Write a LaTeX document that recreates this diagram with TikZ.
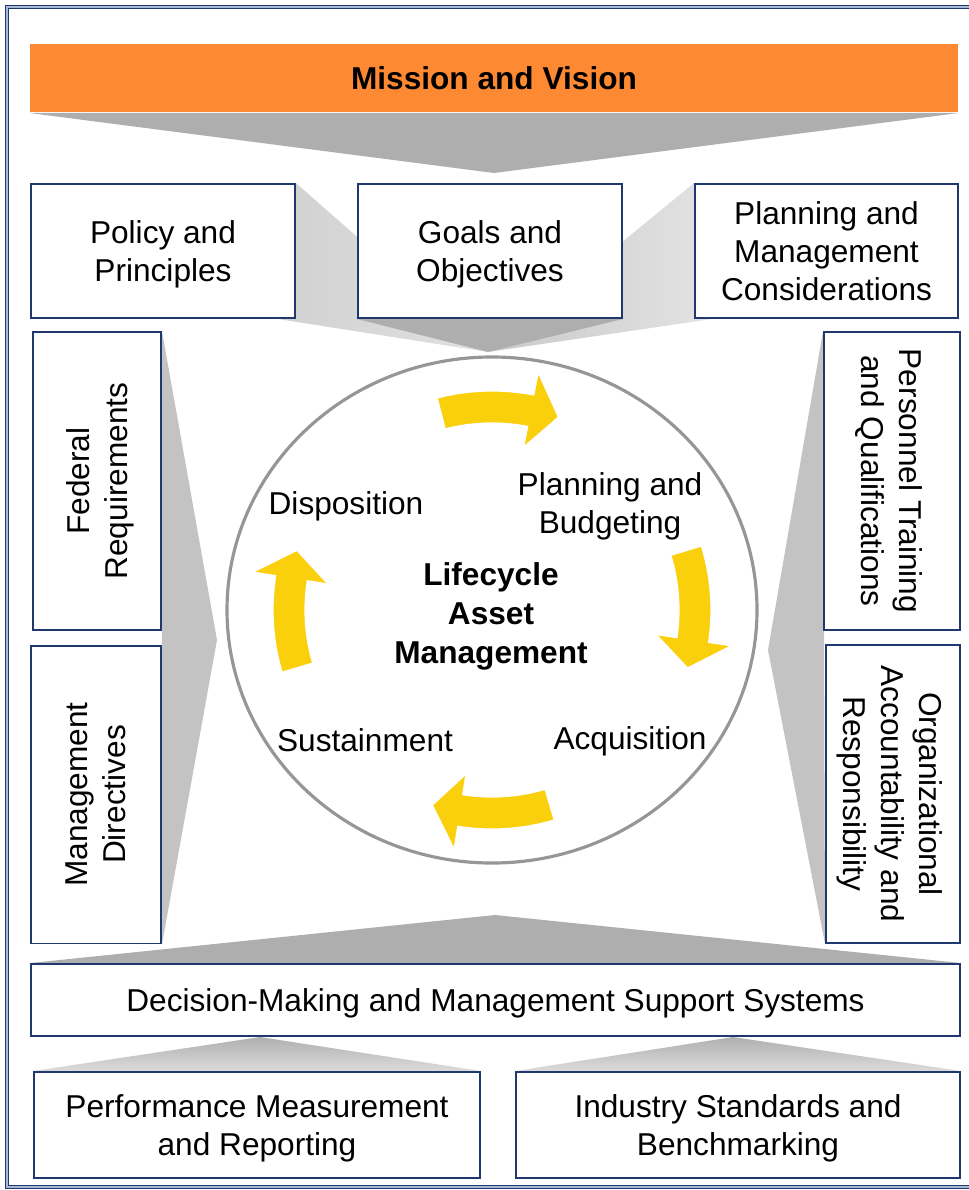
\documentclass[tikz,border=0pt]{standalone}
\usepackage{fontspec}
\setmainfont{Liberation Sans}
\usetikzlibrary{backgrounds}
\definecolor{boxnavy}{RGB}{31,56,112}
\definecolor{frameinner}{RGB}{170,186,212}
\definecolor{bannerorange}{RGB}{253,138,51}
\definecolor{funnelgray}{RGB}{174,174,174}
\definecolor{sidegray}{RGB}{195,195,195}
\definecolor{cycleyellow}{RGB}{250,207,12}
\definecolor{ringgray}{RGB}{150,150,150}

\begin{document}
\begin{tikzpicture}[x=0.02cm, y=-0.02cm,
  infobox/.style={draw=boxnavy, line width=1.1pt, fill=white, align=center, inner sep=0pt, text depth=-0.6pt, font=\fontsize{18}{21.5}\selectfont},
  tallbox/.style={infobox, minimum width=5.96cm},
  cyclelabel/.style={align=center, text depth=0pt, font=\fontsize{18}{21.5}\selectfont},
  funnel/.style={fill=funnelgray},
  sidefunnel/.style={fill=sidegray},
  cyclearrow/.style={fill=cycleyellow, draw=white, line width=0.7pt}]
\useasboundingbox (0,0) rectangle (969,1190);
\draw[boxnavy, line width=0.9pt, double=frameinner, double distance=1pt] (7,7) rectangle (1000,1187);

\node[infobox, fill=bannerorange, draw=none, minimum width=18.56cm, minimum height=1.36cm, text depth=0pt, font=\bfseries\fontsize{18}{21.5}\selectfont] (mission) at (494,78) {Mission and Vision};
\node[infobox, minimum width=5.28cm, minimum height=2.68cm] (policy) at (163,251) {Policy and\\Principles};
\node[infobox, minimum width=5.28cm, minimum height=2.68cm] (goals) at (490,251) {Goals and\\Objectives};
\node[infobox, minimum width=5.26cm, minimum height=2.68cm] (planmgmt) at (826.5,251) {Planning and\\Management\\Considerations};
\node[tallbox, rotate=90, minimum height=2.56cm] (federal) at (97,481) {Federal\\Requirements};
\node[tallbox, rotate=90, minimum height=2.6cm] (mgmtdir) at (96,794.5) {Management\\Directives};
\node[tallbox, rotate=-90, minimum height=2.72cm] (personnel) at (892,481) {Personnel Training\\and Qualifications};
\node[tallbox, rotate=-90, minimum height=2.68cm] (orgacc) at (893,794) {Organizational\\Accountability and\\Responsibility};
\node[infobox, minimum width=18.58cm, minimum height=1.44cm] (decision) at (495.5,1000) {Decision-Making and Management Support Systems};
\node[infobox, minimum width=8.92cm, minimum height=2.12cm] (perf) at (257,1125) {Performance Measurement\\and Reporting};
\node[infobox, minimum width=8.88cm, minimum height=2.12cm] (industry) at (738,1125) {Industry Standards and\\Benchmarking};

\coordinate (missiontip) at (494,173);
\coordinate (toptip) at (488,352);
\coordinate (lefttip) at (217,640);
\coordinate (righttip) at (768,650);
\coordinate (bottomtip) at (495,915);
\coordinate (perftip) at (260,1037);
\coordinate (industrytip) at (733,1037);

\begin{scope}[on background layer]
\fill[funnel] (mission.south west) -- (mission.south east) -- (missiontip) -- cycle;
\shade[left color=gray!36, right color=gray!24] (policy.north east) -- (toptip) -- ([xshift=-0.36cm]policy.south east) -- cycle;
\shade[left color=gray!42, right color=gray!22] (planmgmt.north west) -- (toptip) -- ([xshift=0.36cm]planmgmt.south west) -- cycle;
\fill[funnel] (goals.south west) -- (goals.south east) -- (toptip) -- cycle;
\fill[sidefunnel] (federal.south east) -- (lefttip) -- (mgmtdir.south west) -- cycle;
\fill[sidefunnel] (personnel.south west) -- (righttip) -- (orgacc.south east) -- cycle;
\fill[funnel] (decision.north west) -- (decision.north east) -- (bottomtip) -- cycle;
\shade[top color=gray!62, bottom color=gray!28] (perf.north west) -- (perf.north east) -- (perftip) -- cycle;
\shade[top color=gray!62, bottom color=gray!28] (industry.north west) -- (industry.north east) -- (industrytip) -- cycle;
\end{scope}

\draw[ringgray, line width=1.8pt] (492,610) ellipse [x radius=265, y radius=253];
\begin{scope}[shift={(492,610)}, y=0.02cm]
\foreach \t in {104.5,17,-73.5,196.5}
  \path[cyclearrow] (\t:219) arc[start angle=\t, end angle=\t-25.5, radius=219] -- (\t-25.5:242) -- (\t-33.5:204) -- (\t-25.5:166) -- (\t-25.5:187) arc[start angle=\t-25.5, end angle=\t, radius=187] -- cycle;
\end{scope}

\node[cyclelabel] (disposition) at (346,503) {Disposition};
\node[cyclelabel] (planbudget) at (610,503) {Planning and\\Budgeting};
\node[cyclelabel, font=\bfseries\fontsize{18}{22}\selectfont] (lifecycle) at (491,613) {Lifecycle\\Asset\\Management};
\node[cyclelabel] (sustainment) at (365,740) {Sustainment};
\node[cyclelabel] (acquisition) at (630,738) {Acquisition};
\end{tikzpicture}
\end{document}
